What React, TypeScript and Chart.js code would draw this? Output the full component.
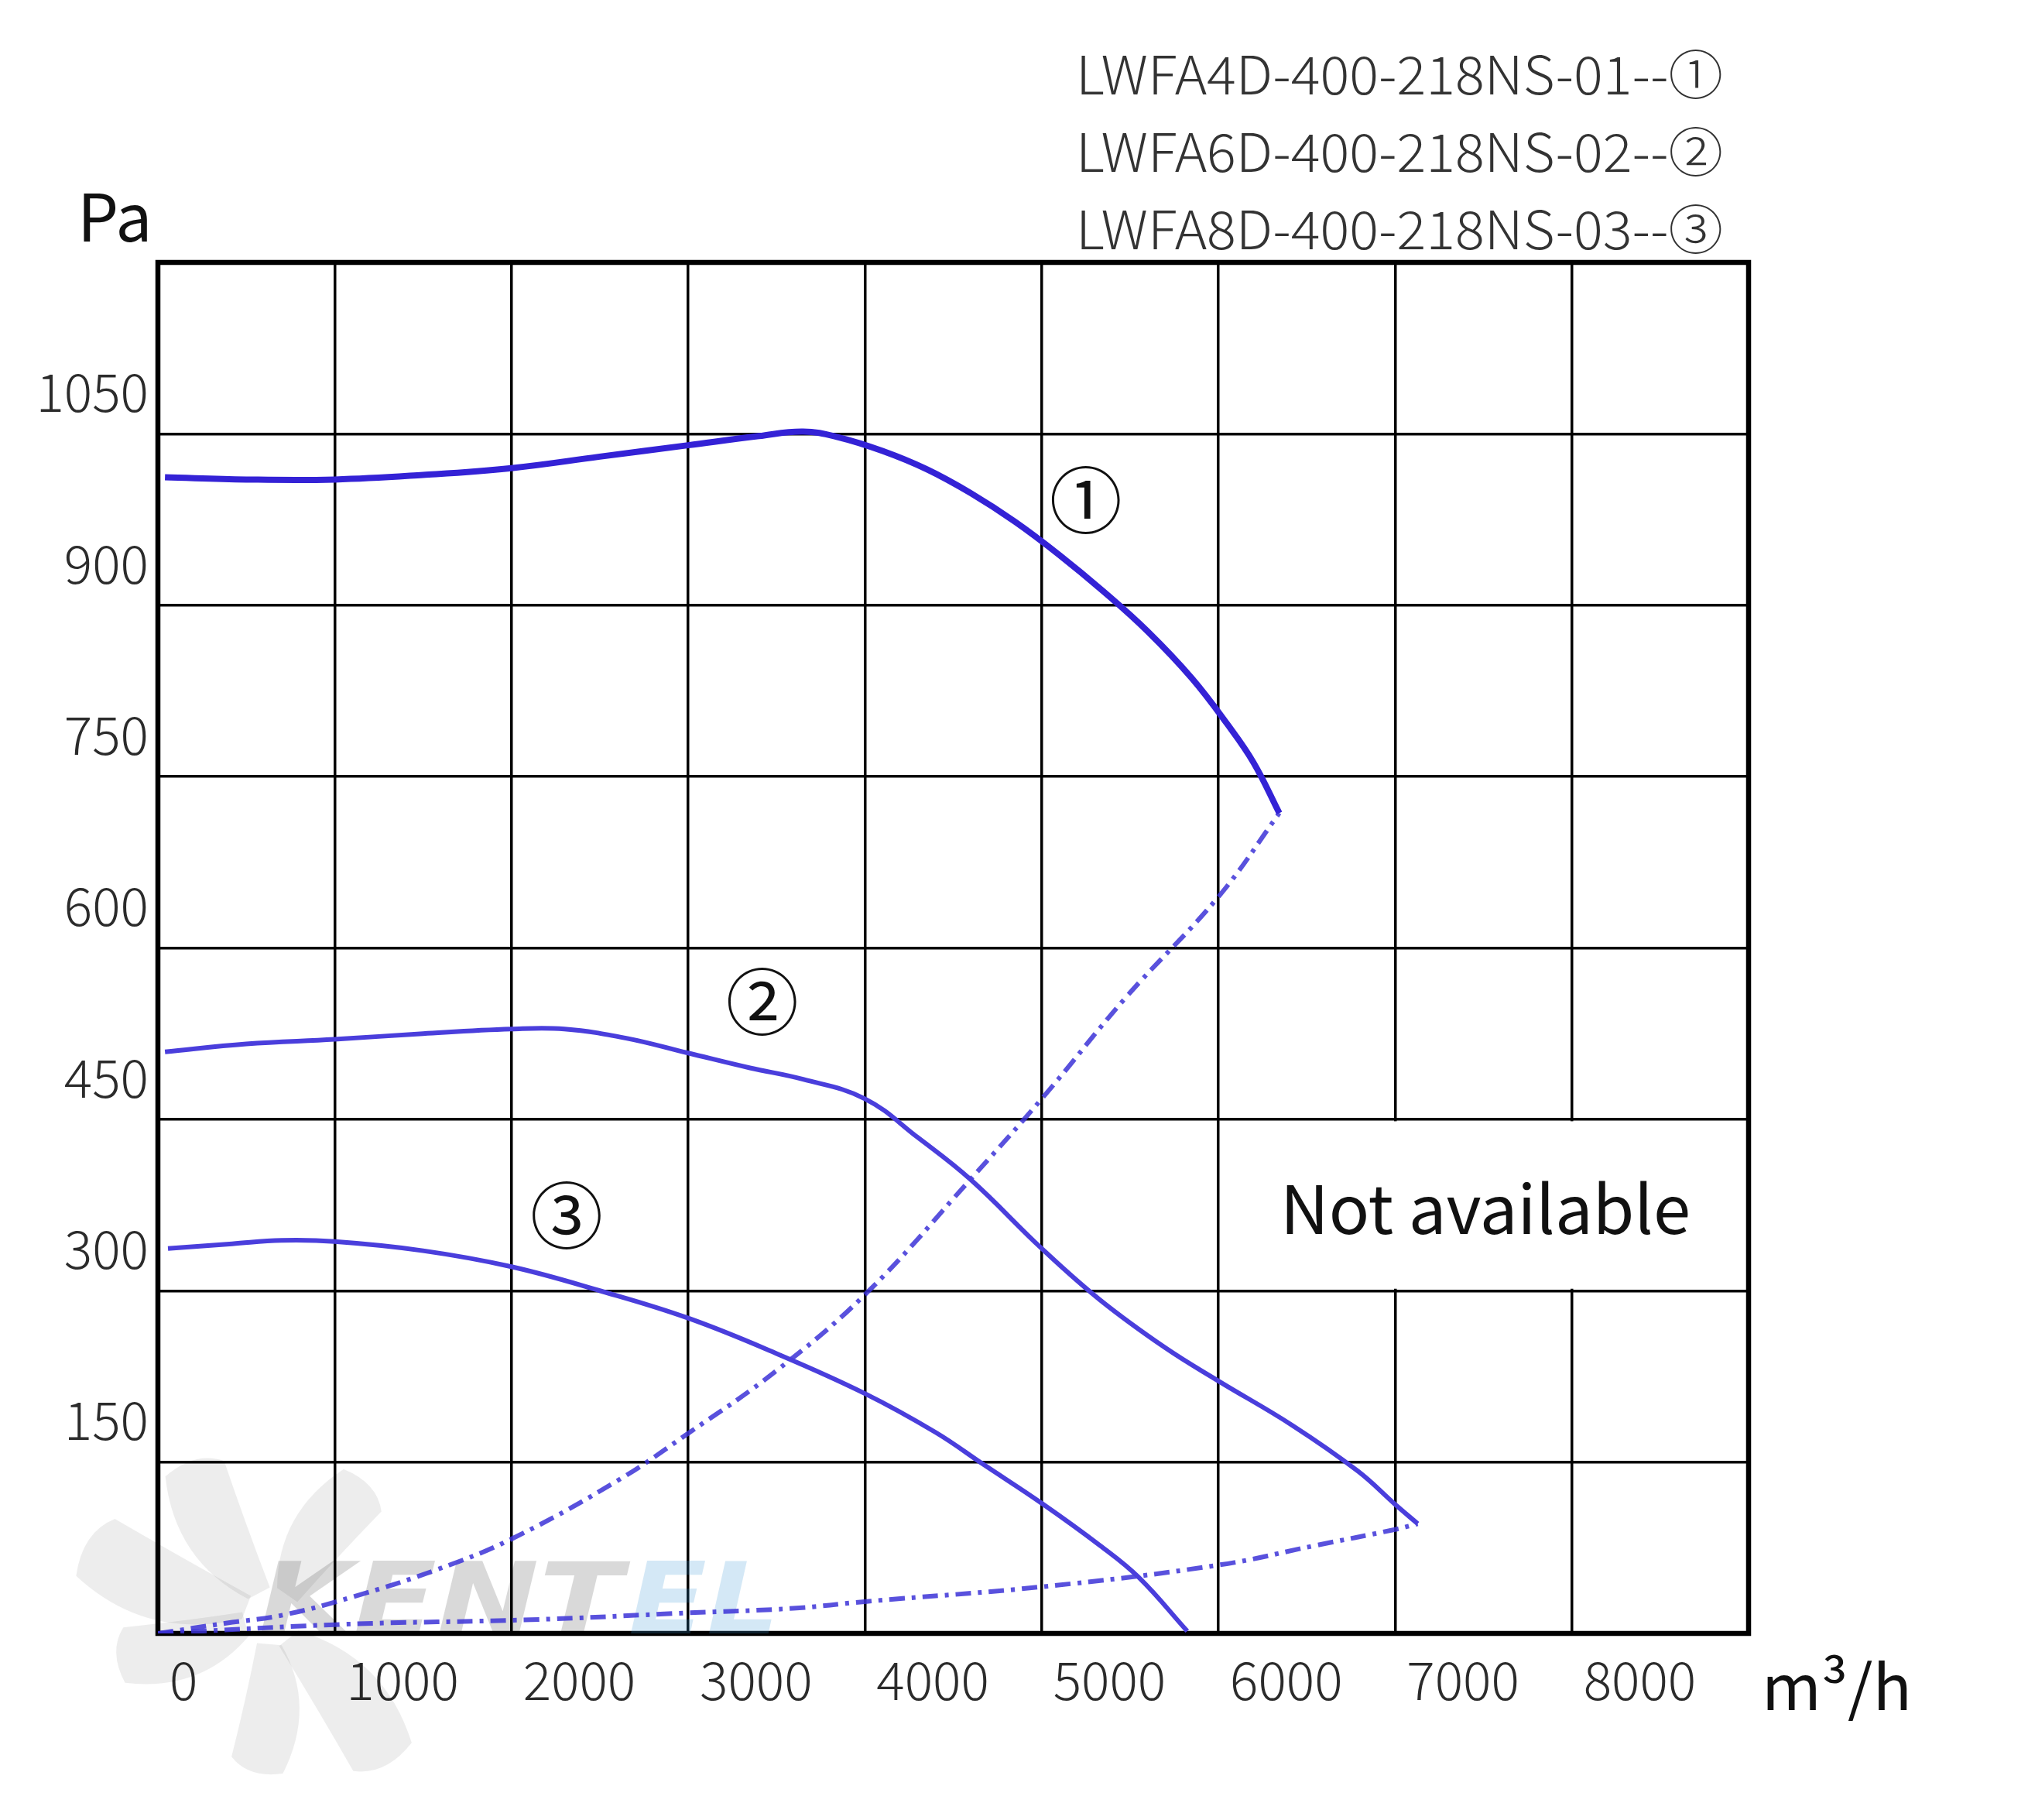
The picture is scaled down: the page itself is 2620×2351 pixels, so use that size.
import React, { useEffect, useRef } from "react";
import { Chart, registerables } from "chart.js";

Chart.register(...registerables);

// ---------- data ----------
const xTickLabels = ["0", "1000", "2000", "3000", "4000", "5000", "6000", "7000", "8000", ""];
const yTickLabels = ["", "150", "300", "450", "600", "750", "900", "1050", ""];

const fan1Flow = [40, 500, 1000, 1500, 2000, 2500, 3000, 3400, 3650, 3850, 4100, 4350, 4600, 4850, 5100, 5350, 5600, 5850, 6050, 6200, 6345];
const fan1Pressure = [1012, 1010, 1010, 1014, 1020, 1030, 1040, 1048, 1052, 1047, 1035, 1019, 998, 973, 944, 912, 877, 836, 796, 762, 718];

const fan2Flow = [40, 500, 1000, 1500, 2000, 2300, 2650, 3000, 3350, 3650, 4000, 4300, 4600, 5000, 5330, 5700, 6000, 6420, 6790, 7000, 7128];
const fan2Pressure = [509, 516, 520, 525, 529, 529, 521, 508, 495, 485, 468, 434, 397, 337, 292, 250, 221, 182, 142, 113, 96];

const fan3Flow = [57, 420, 700, 1000, 1500, 2000, 2500, 3000, 3500, 4000, 4400, 4670, 5000, 5330, 5550, 5824];
const fan3Pressure = [337, 341, 344, 343, 335, 321, 300, 276, 245, 210, 176, 148, 114, 77, 49, 2];

const sys1Flow = [0, 385, 705, 1103, 1581, 2005, 2614, 2999, 3500, 4010, 4595, 5012, 5473, 6007, 6345];
const sys1Pressure = [0, 9, 16, 32, 56, 83, 135, 175, 230, 298, 397, 470, 556, 646, 718];

const sys2Flow = [0, 1051, 2110, 3000, 3595, 4010, 5012, 6007, 6550, 7000, 7128];
const sys2Pressure = [0, 8, 12, 18, 22, 28, 41, 60, 77, 91, 96];

const legendLines = ["LWFA4D-400-218NS-01--①", "LWFA6D-400-218NS-02--②", "LWFA8D-400-218NS-03--③"];
const curveMarks = ["①", "②", "③"];
const markFlow = [5250, 3419, 2312];
const markPressure = [984, 545, 358];
const notAvailableText = "Not available";
const notAvailFlow = [6000, 9000];
const notAvailPressure = [300, 450];
const yUnit = "Pa";
const xUnit = "m³/h";
const watermarkA = "KENT";
const watermarkB = "EL";

const pts = (xs: number[], ys: number[]) => xs.map((x, i) => ({ x, y: ys[i] }));

const CJK = '"Noto Sans CJK SC", "Noto Sans", sans-serif';

function fitText(ctx: CanvasRenderingContext2D, text: string, x: number, y: number, font: string, color: string, width?: number) {
  ctx.save();
  ctx.font = font;
  ctx.fillStyle = color;
  ctx.textAlign = "left";
  ctx.textBaseline = "alphabetic";
  const w = ctx.measureText(text).width;
  const s = width ? width / w : 1;
  ctx.translate(x, y);
  ctx.scale(s, 1);
  ctx.fillText(text, 0, 0);
  ctx.restore();
}

const decorPlugin = {
  id: "decor",
  beforeDatasetsDraw(chart: any) {
    const { ctx, chartArea: a, scales } = chart;
    const x = scales.x, y = scales.y;
    ctx.save();
    // "Not available" white panel
    const x0 = x.getPixelForValue(notAvailFlow[0]);
    const x1 = x.getPixelForValue(notAvailFlow[1]);
    const y0 = y.getPixelForValue(notAvailPressure[1]);
    const y1 = y.getPixelForValue(notAvailPressure[0]);
    ctx.fillStyle = "#ffffff";
    ctx.fillRect(x0 + 2.5, y0 + 2.5, x1 - x0 - 5, y1 - y0 - 5);
    // frame
    ctx.strokeStyle = "#000";
    ctx.lineWidth = 6.5;
    ctx.strokeRect(a.left, a.top, a.right - a.left, a.bottom - a.top);

    // faint watermark (fan + brand)
    const cx = 351, cy = 2089;
    const angles = [-118, -159, 165, 95, 51, -55];
    const lens = [225, 255, 205, 200, 240, 210];
    ctx.fillStyle = "rgba(0,0,0,0.07)";
    angles.forEach((ang, i) => {
      const len = lens[i];
      ctx.save();
      ctx.translate(cx, cy);
      ctx.rotate((ang * Math.PI) / 180);
      ctx.beginPath();
      ctx.moveTo(35, -16);
      ctx.quadraticCurveTo(len * 0.55, -len * 0.34, len, -len * 0.16);
      ctx.quadraticCurveTo(len * 1.05, len * 0.06, len * 0.92, len * 0.18);
      ctx.quadraticCurveTo(len * 0.55, len * 0.12, 35, 16);
      ctx.closePath();
      ctx.fill();
      ctx.restore();
    });
    fitText(ctx, watermarkA, 334, 2110, "italic 900 128px 'DejaVu Sans', sans-serif", "rgba(0,0,0,0.15)", 470);
    fitText(ctx, watermarkB, 812, 2110, "italic 900 128px 'DejaVu Sans', sans-serif", "rgba(60,150,215,0.22)", 195);
    ctx.restore();
  },
  afterDatasetsDraw(chart: any) {
    const { ctx, scales } = chart;
    ctx.save();
    ctx.fillStyle = "#111";
    ctx.font = '94px "DejaVu Serif", "Noto Sans CJK SC", serif';
    ctx.textAlign = "center";
    ctx.textBaseline = "middle";
    curveMarks.forEach((m, i) => {
      ctx.fillText(m, scales.x.getPixelForValue(markFlow[i]), scales.y.getPixelForValue(markPressure[i]));
    });
    ctx.restore();
  },
  afterDraw(chart: any) {
    const { ctx } = chart;
    // legend
    const baselines = [122, 222, 322];
    legendLines.forEach((t, i) => fitText(ctx, t, 1390, baselines[i], `300 68px ${CJK}`, "#333", 836));
    // units
    fitText(ctx, yUnit, 100, 312, `84px ${CJK}`, "#111");
    fitText(ctx, xUnit, 2276, 2209, `80px ${CJK}`, "#111", 194);
    // not available
    fitText(ctx, notAvailableText, 1654, 1594, `86px ${CJK}`, "#111", 530);
  },
};

export default function App() {
  const ref = useRef<HTMLCanvasElement>(null);
  useEffect(() => {
    document.body.style.margin = "0";
    const canvas = ref.current!;
    const lineBase = { pointRadius: 0, fill: false, tension: 0.4 };
    const chart = new Chart(canvas, {
      type: "line",
      data: {
        datasets: [
          { ...lineBase, data: pts(fan1Flow, fan1Pressure), borderColor: "#3422d6", borderWidth: 8 },
          { ...lineBase, data: pts(fan2Flow, fan2Pressure), borderColor: "#4a3edc", borderWidth: 6 },
          { ...lineBase, data: pts(fan3Flow, fan3Pressure), borderColor: "#4a3edc", borderWidth: 6 },
          { ...lineBase, data: pts(sys1Flow, sys1Pressure), borderColor: "rgba(60,50,215,0.85)", borderWidth: 6, borderDash: [20, 9, 5, 9] },
          { ...lineBase, data: pts(sys2Flow, sys2Pressure), borderColor: "rgba(60,50,215,0.85)", borderWidth: 6, borderDash: [20, 9, 5, 9] },
        ],
      },
      options: {
        animation: false,
        responsive: false,
        maintainAspectRatio: false,
        devicePixelRatio: 1,
        layout: { padding: { top: 339, right: 361, left: 0, bottom: 0 } },
        plugins: { legend: { display: false }, tooltip: { enabled: false } },
        scales: {
          x: {
            type: "linear",
            min: 0,
            max: 9000,
            afterFit: (s: any) => { s.height = 241; },
            grid: { color: "#000", lineWidth: 3.5, drawTicks: false },
            border: { display: false },
            ticks: {
              stepSize: 1000,
              align: "start",
              labelOffset: 15,
              padding: 19,
              color: "#2b2b2b",
              font: { family: CJK, size: 68, weight: "300" },
              callback: (_v: any, i: number) => xTickLabels[i],
            },
          },
          y: {
            type: "linear",
            min: 0,
            max: 1200,
            afterFit: (s: any) => { s.width = 204; },
            grid: { color: "#000", lineWidth: 3.5, drawTicks: false },
            border: { display: false },
            ticks: {
              stepSize: 150,
              labelOffset: -54,
              padding: 12,
              color: "#2b2b2b",
              font: { family: CJK, size: 68, weight: "300" },
              callback: (_v: any, i: number) => yTickLabels[i],
            },
          },
        },
      } as any,
      plugins: [decorPlugin],
    });
    return () => chart.destroy();
  }, []);
  return (
    <div style={{ width: 2620, height: 2351, background: "#fff" }}>
      <canvas ref={ref} width={2620} height={2351} style={{ display: "block", width: 2620, height: 2351 }} />
    </div>
  );
}
